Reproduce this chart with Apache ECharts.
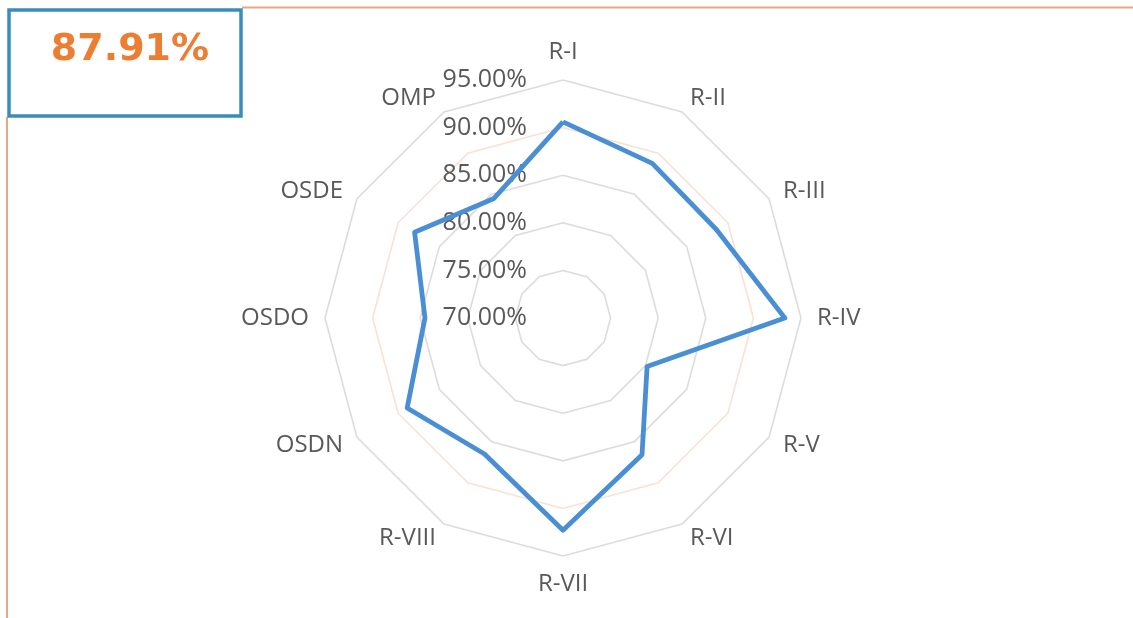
<!DOCTYPE html>
<html>
<head>
<meta charset="utf-8">
<script src="https://cdn.jsdelivr.net/npm/echarts@6/dist/echarts.min.js"></script>
<style>
html,body{margin:0;padding:0;background:#fff;}
#chart{width:1133px;height:618px;}
</style>
</head>
<body>
<div id="chart"></div>
<script>
// ---- data ----
const categories = ['R-I','R-II','R-III','R-IV','R-V','R-VI','R-VII','R-VIII','OSDN','OSDO','OSDE','OMP'];
const values = [90.6, 88.75, 88.6, 93.3, 80.2, 86.6, 92.3, 86.5, 88.9, 84.5, 88.0, 84.5];
const axisMin = 70;
const axisMax = 95;
const axisInterval = 5;
const headlineValue = '87.91%';

// ECharts radar runs counter-clockwise; reorder so the chart reads clockwise from the top
const order = [0].concat(categories.map((c, i) => i).slice(1).reverse());

const indicator = order.map((i, k) => {
  const ind = { name: categories[i], min: axisMin, max: axisMax };
  if (k === 0) {
    ind.axisLabel = {
      show: true,
      formatter: v => v.toFixed(2) + '%',
      color: '#595959',
      fontSize: 25,
      fontFamily: 'Open Sans',
      align: 'right',
      verticalAlign: 'middle',
      margin: 36
    };
  }
  return ind;
});

const chart = echarts.init(document.getElementById('chart'), null, { renderer: 'canvas' });
chart.setOption({
  backgroundColor: '#ffffff',
  animation: false,
  title: {
    text: headlineValue,
    left: 125,
    top: 26,
    textAlign: 'center',
    textStyle: { color: '#ed7d31', fontSize: 38, fontWeight: 'bold', fontFamily: 'DejaVu Sans' }
  },
  graphic: [
    { type: 'line', shape: { x1: 242, y1: 7.5, x2: 1133, y2: 7.5 }, style: { stroke: '#e8a583', lineWidth: 2 } },
    { type: 'line', shape: { x1: 7, y1: 117, x2: 7, y2: 618 }, style: { stroke: '#e8a583', lineWidth: 2 } },
    { type: 'rect', shape: { x: 9, y: 10, width: 232, height: 106 }, style: { fill: 'rgba(0,0,0,0)', stroke: '#3a8db8', lineWidth: 3.5 } }
  ],
  radar: {
    center: [563, 318],
    radius: 238,
    startAngle: 90,
    splitNumber: (axisMax - axisMin) / axisInterval,
    shape: 'polygon',
    indicator: indicator,
    axisName: {
      color: '#595959',
      fontSize: 24,
      fontFamily: 'Open Sans'
    },
    nameGap: 16,
    axisLine: { show: false },
    axisTick: { show: false },
    axisLabel: { show: false },
    splitArea: { show: false },
    splitLine: {
      lineStyle: {
        color: ['#dcdcdc', '#dcdcdc', '#dcdcdc', '#dcdcdc', '#f7e2d4', '#dcdcdc'],
        width: 1.6
      }
    }
  },
  series: [{
    type: 'radar',
    symbol: 'none',
    lineStyle: { color: '#4a8fd3', width: 4.8 },
    data: [{ value: order.map(i => values[i]), name: 'Score' }]
  }]
});
</script>
</body>
</html>
